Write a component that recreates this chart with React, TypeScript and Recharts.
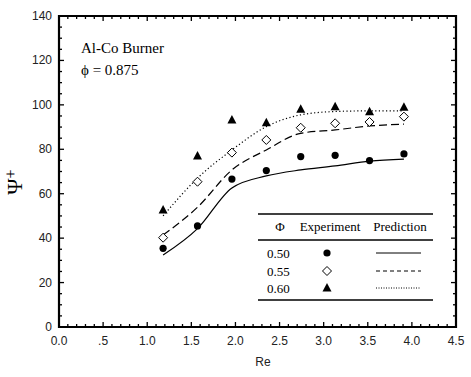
import { ComposedChart, Line, ReferenceArea, ReferenceLine, Scatter, XAxis, YAxis } from "recharts";

const WIDTH = 471;
const HEIGHT = 377;
const SERIF = "'Liberation Serif', 'Times New Roman', serif";
const SANS = "'Liberation Sans', Arial, sans-serif";

// Reynolds number for each measured / predicted point
const RE = [1.18, 1.57, 1.96, 2.35, 2.74, 3.13, 3.52, 3.91];

const EXP_050 = [35.4, 45.5, 66.6, 70.4, 76.7, 77.3, 74.9, 77.9];
const EXP_055 = [40.2, 65.4, 78.5, 84.2, 89.7, 91.7, 92.3, 94.7];
const EXP_060 = [52.7, 77.0, 93.2, 92.0, 98.0, 99.2, 96.9, 98.9];

const PRED_050 = [32.4, 44.3, 62.6, 68.0, 70.7, 72.5, 74.7, 75.6];
const PRED_055 = [41.4, 53.9, 70.7, 79.7, 87.2, 88.7, 90.5, 91.3];
const PRED_060 = [50.0, 67.0, 79.7, 90.2, 95.5, 97.0, 97.3, 97.3];

const X_TICK_LABELS = ["0.0", ".5", "1.0", "1.5", "2.0", "2.5", "3.0", "3.5", "4.0", "4.5"];
const Y_TICK_LABELS = ["0", "20", "40", "60", "80", "100", "120", "140"];

const X_MAX = 4.5;
const Y_MAX = 140;

// minor ticks every 0.1 on x, every 5 on y; majors get the labels above
const X_TICKS = Array.from({ length: 46 }, (_, i) => i / 10);
const Y_TICKS = Array.from({ length: 29 }, (_, i) => i * 5);

const rows = RE.map((re, i) => ({
  re,
  e50: EXP_050[i],
  e55: EXP_055[i],
  e60: EXP_060[i],
  p50: PRED_050[i],
  p55: PRED_055[i],
  p60: PRED_060[i],
}));

// plot box in px, used to turn tick lengths (px) into data units
const PLOT_W = 397;
const PLOT_H = 311;
const MAJOR = 5;
const MINOR = 3;

const isMajorX = (v: number) => Math.round(v * 10) % 5 === 0;
const isMajorY = (v: number) => Math.round(v) % 20 === 0;

function BottomLabel(props: any) {
  const x = Number(props.x);
  const y = Number(props.y);
  const v = props.payload.value;
  if (!isMajorX(v)) return <g />;
  return (
    <text x={x} y={y + 18} textAnchor="middle" fontFamily={SANS} fontSize={12} fill="#222">
      {X_TICK_LABELS[Math.round(v * 2)]}
    </text>
  );
}

function LeftLabel(props: any) {
  const x = Number(props.x);
  const y = Number(props.y);
  const v = props.payload.value;
  if (!isMajorY(v)) return <g />;
  return (
    <text x={x - 7} y={y + 4} textAnchor="end" fontFamily={SANS} fontSize={12} fill="#222">
      {Y_TICK_LABELS[Math.round(v / 20)]}
    </text>
  );
}

// inward ticks on all four sides of the frame
function tickSegments() {
  const out: any[] = [];
  const yUnit = Y_MAX / PLOT_H;
  const xUnit = X_MAX / PLOT_W;
  X_TICKS.forEach((v) => {
    const len = (isMajorX(v) ? MAJOR : MINOR) * yUnit;
    out.push([{ x: v, y: 0 }, { x: v, y: len }]);
    out.push([{ x: v, y: Y_MAX }, { x: v, y: Y_MAX - len }]);
  });
  Y_TICKS.forEach((v) => {
    const len = (isMajorY(v) ? MAJOR : MINOR) * xUnit;
    out.push([{ x: 0, y: v }, { x: len, y: v }]);
    out.push([{ x: X_MAX, y: v }, { x: X_MAX - len, y: v }]);
  });
  return out;
}

function Dot(cx: number, cy: number) {
  return <circle cx={cx} cy={cy} r={3.6} fill="#000" />;
}
function Diamond(cx: number, cy: number) {
  const r = 4.5;
  return (
    <polygon
      points={`${cx},${cy - r} ${cx + r},${cy} ${cx},${cy + r} ${cx - r},${cy}`}
      fill="#fff"
      stroke="#000"
      strokeWidth={1}
    />
  );
}
function Triangle(cx: number, cy: number) {
  return <polygon points={`${cx},${cy - 5} ${cx + 4.5},${cy + 3.5} ${cx - 4.5},${cy + 3.5}`} fill="#000" />;
}

function LegendTable() {
  const left = 258;
  const right = 433;
  const rowsY = [253, 271, 288];
  const labels = ["0.50", "0.55", "0.60"];
  const marks = [Dot, Diamond, Triangle];
  const dashes = [undefined, "4 3", "1 1.5"];
  return (
    <g fontFamily={SERIF} fontSize={13} fill="#000">
      <line x1={left} x2={right} y1={214} y2={214} stroke="#000" strokeWidth={1.3} />
      <text x={280} y={231} textAnchor="middle">Φ</text>
      <text x={330} y={231} textAnchor="middle">Experiment</text>
      <text x={400} y={231} textAnchor="middle">Prediction</text>
      <line x1={left} x2={right} y1={240} y2={240} stroke="#000" strokeWidth={1.3} />
      {rowsY.map((y, i) => (
        <g key={labels[i]}>
          <text x={267} y={y + 5}>{labels[i]}</text>
          {marks[i](327, y)}
          <line x1={376} x2={421} y1={y} y2={y} stroke="#000" strokeWidth={1} strokeDasharray={dashes[i]} />
        </g>
      ))}
      <line x1={left} x2={right} y1={300} y2={300} stroke="#000" strokeWidth={1.3} />
    </g>
  );
}

export default function App() {
  return (
    <div style={{ position: "relative", width: WIDTH, height: HEIGHT, background: "#fff" }}>
      <style>{"body{margin:0}"}</style>
      <ComposedChart width={WIDTH} height={HEIGHT} data={rows} margin={{ top: 16, right: 15, bottom: 0, left: 0 }}>
        <XAxis
          dataKey="re"
          type="number"
          domain={[0, X_MAX]}
          ticks={X_TICKS}
          interval={0}
          allowDataOverflow
          height={50}
          tickSize={0}
          tickMargin={0}
          tickLine={false}
          axisLine={false}
          tick={<BottomLabel />}
        />
        <YAxis
          type="number"
          domain={[0, Y_MAX]}
          ticks={Y_TICKS}
          interval={0}
          allowDataOverflow
          width={59}
          tickSize={0}
          tickMargin={0}
          tickLine={false}
          axisLine={false}
          tick={<LeftLabel />}
        />
        {tickSegments().map((seg, i) => (
          <ReferenceLine key={i} segment={seg} stroke="#000" strokeWidth={1.3} ifOverflow="visible" />
        ))}
        <ReferenceArea
          x1={0}
          x2={X_MAX}
          y1={0}
          y2={Y_MAX}
          fill="none"
          fillOpacity={0}
          stroke="#000"
          strokeWidth={2.2}
          ifOverflow="visible"
        />
        <Line dataKey="p50" type="monotone" stroke="#000" strokeWidth={1.2} dot={false} isAnimationActive={false} />
        <Line
          dataKey="p55"
          type="monotone"
          stroke="#000"
          strokeWidth={1.2}
          strokeDasharray="8 4"
          dot={false}
          isAnimationActive={false}
        />
        <Line
          dataKey="p60"
          type="monotone"
          stroke="#000"
          strokeWidth={1.2}
          strokeDasharray="1.2 2.4"
          dot={false}
          isAnimationActive={false}
        />
        <Scatter dataKey="e50" isAnimationActive={false} shape={(p: any) => Dot(p.cx, p.cy)} />
        <Scatter dataKey="e55" isAnimationActive={false} shape={(p: any) => Diamond(p.cx, p.cy)} />
        <Scatter dataKey="e60" isAnimationActive={false} shape={(p: any) => Triangle(p.cx, p.cy)} />
      </ComposedChart>
      <svg
        width={WIDTH}
        height={HEIGHT}
        style={{ position: "absolute", left: 0, top: 0, pointerEvents: "none" }}
      >
        <text x={81} y={53} fontFamily={SERIF} fontSize={15}>Al-Co Burner</text>
        <text x={81} y={75} fontFamily={SERIF} fontSize={15}>ϕ = 0.875</text>
        <text x={263} y={366} textAnchor="middle" fontFamily={SANS} fontSize={12} fill="#222">Re</text>
        <text
          transform="translate(22,182) rotate(-90)"
          textAnchor="middle"
          fontFamily={SERIF}
          fontSize={22}
        >
          Ψ<tspan fontSize={16} dy={-6}>+</tspan>
        </text>
        <LegendTable />
      </svg>
    </div>
  );
}
